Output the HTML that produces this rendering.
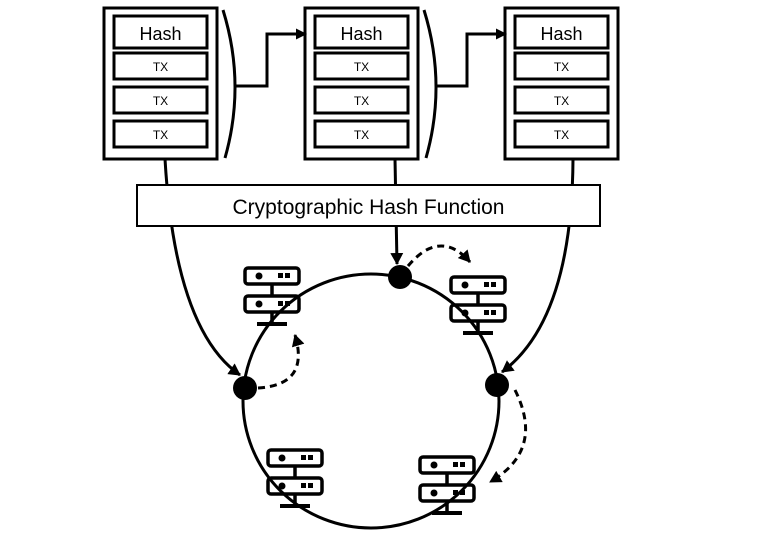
<!DOCTYPE html>
<html><head><style>html,body{margin:0;padding:0;background:#fff}svg{display:block}</style></head><body>
<svg width="763" height="539" viewBox="0 0 763 539" xmlns="http://www.w3.org/2000/svg" font-family="Liberation Sans, sans-serif">
<defs>
<marker id="a" markerWidth="11" markerHeight="11" refX="10" refY="5.5" orient="auto" markerUnits="userSpaceOnUse"><path d="M0,0 L11,5.5 L0,11 z" fill="#000"/></marker>
<marker id="b" markerWidth="13" markerHeight="13" refX="11" refY="6.5" orient="auto" markerUnits="userSpaceOnUse"><path d="M0,0 L12,6.5 L0,13 z" fill="#000"/></marker>
<g id="blk">
<rect x="104" y="8" width="113" height="151" fill="#fff" stroke="#000" stroke-width="3"/>
<rect x="114" y="16" width="93" height="32" fill="#fff" stroke="#000" stroke-width="3"/>
<rect x="114" y="53" width="93" height="26" fill="#fff" stroke="#000" stroke-width="3"/>
<rect x="114" y="87" width="93" height="26" fill="#fff" stroke="#000" stroke-width="3"/>
<rect x="114" y="121" width="93" height="26" fill="#fff" stroke="#000" stroke-width="3"/>
<text x="160.5" y="40" font-size="18" text-anchor="middle">Hash</text>
<text x="160.5" y="71" font-size="12" text-anchor="middle">TX</text>
<text x="160.5" y="105" font-size="12" text-anchor="middle">TX</text>
<text x="160.5" y="139" font-size="12" text-anchor="middle">TX</text>
</g>
<g id="srv" fill="none" stroke="#000" stroke-width="3.5">
<rect x="245" y="268" width="54" height="16" rx="3"/>
<rect x="245" y="296" width="54" height="16" rx="3"/>
<line x1="272" y1="284" x2="272" y2="296"/>
<line x1="272" y1="312" x2="272" y2="324"/>
<line x1="257" y1="324" x2="287" y2="324" stroke-width="4"/>
<circle cx="259" cy="276" r="3.5" fill="#000" stroke="none"/>
<circle cx="259" cy="304" r="3.5" fill="#000" stroke="none"/>
<rect x="278" y="273" width="5" height="5" fill="#000" stroke="none"/>
<rect x="285" y="273" width="5" height="5" fill="#000" stroke="none"/>
<rect x="278" y="301" width="5" height="5" fill="#000" stroke="none"/>
<rect x="285" y="301" width="5" height="5" fill="#000" stroke="none"/>
</g>
</defs>
<use href="#blk"/>
<use href="#blk" x="201"/>
<use href="#blk" x="401"/>
<g fill="none" stroke="#000" stroke-width="3">
<path d="M223,10 Q246,84 225,158"/>
<path d="M424,10 Q447,84 426,158"/>
<path d="M236,86 H267 V34 H306" marker-end="url(#a)"/>
<path d="M437,86 H467 V34 H506" marker-end="url(#a)"/>
<path d="M165,159 Q175,330 240,375" marker-end="url(#b)"/>
<path d="M395,159 L397,264" marker-end="url(#b)"/>
<path d="M573,159 Q572,320 502,372" marker-end="url(#b)"/>
</g>
<rect x="137" y="185" width="463" height="41" fill="#fff" stroke="#000" stroke-width="2"/>
<text x="368.5" y="214" font-size="21" text-anchor="middle">Cryptographic Hash Function</text>
<use href="#srv"/>
<use href="#srv" x="206" y="9"/>
<use href="#srv" x="23" y="182"/>
<use href="#srv" x="175" y="189"/>
<ellipse cx="371" cy="401" rx="128" ry="127" fill="none" stroke="#000" stroke-width="3"/>
<g fill="none" stroke="#000" stroke-width="3" stroke-dasharray="7,5">
<path d="M258,388 Q310,385 295,335" marker-end="url(#b)"/>
<path d="M408,266 Q440,228 470,262" marker-end="url(#b)"/>
<path d="M515,390 Q545,450 490,482" marker-end="url(#b)"/>
</g>
<circle cx="245" cy="388" r="12" fill="#000"/>
<circle cx="400" cy="277" r="12" fill="#000"/>
<circle cx="497" cy="385" r="12" fill="#000"/>
</svg>
</body></html>
